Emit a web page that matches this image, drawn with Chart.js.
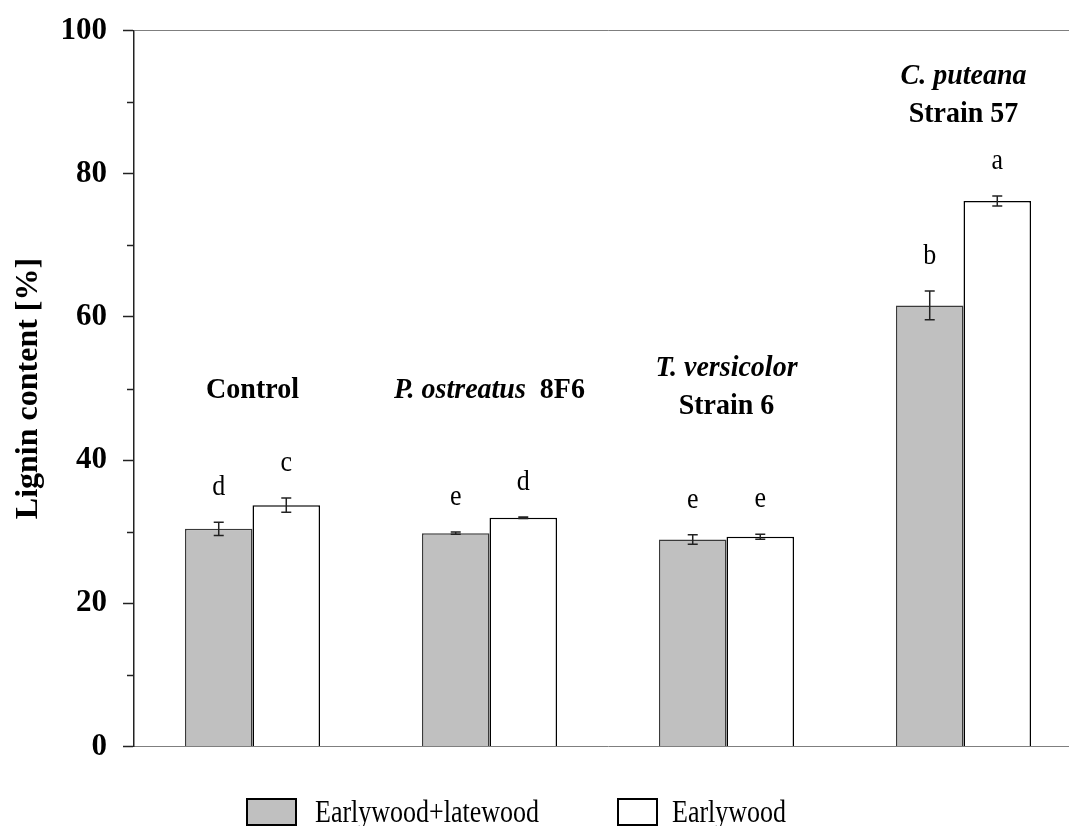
<!DOCTYPE html>
<html><head><meta charset="utf-8">
<script src="https://cdn.jsdelivr.net/npm/chart.js@4"></script>
<style>
html,body{margin:0;padding:0;background:#fff;overflow:hidden}
#wrap{width:1069px;height:826px;overflow:hidden;position:relative;background:#fff}
#box{width:1082px;height:826px;position:absolute;left:0;top:0}
</style></head><body>
<div id="wrap"><div id="box"><canvas id="c"></canvas></div></div>
<script>
const categories = ['Control', 'P. ostreatus 8F6', 'T. versicolor Strain 6', 'C. puteana Strain 57'];
const seriesNames = ['Earlywood+latewood', 'Earlywood'];
const earlyLate = [30.4, 29.8, 28.9, 61.6];
const earlyLateErr = [0.93, 0.15, 0.67, 2.0];
const early = [33.7, 31.95, 29.3, 76.2];
const earlyErr = [1.0, 0.1, 0.35, 0.7];
const earlyLateLetters = ['d', 'e', 'e', 'b'];
const earlyLetters = ['c', 'd', 'e', 'a'];
const yTicks = [0, 20, 40, 60, 80, 100];
const yMinorTicks = [10, 30, 50, 70, 90];
// group captions: lines of [text, italic] segments
const groupCaptions = [
  [[['Control', false]]],
  [[['P. ostreatus', true], ['  8F6', false]]],
  [[['T. versicolor', true]], [['Strain 6', false]]],
  [[['C. puteana', true]], [['Strain 57', false]]]
];
// baseline of the last caption line, in axis units
const captionAnchor = [48.7, 48.7, 46.5, 87.2];

const SERIF = '"Liberation Serif", "Times New Roman", serif';

const annotate = {
  id: 'annotate',
  afterDatasetsDraw(chart) {
    const ctx = chart.ctx;
    const y = chart.scales.y;
    const area = chart.chartArea;
    const errs = [earlyLateErr, earlyErr];
    const vals = [earlyLate, early];
    const letters = [earlyLateLetters, earlyLetters];
    ctx.save();
    // minor ticks
    ctx.strokeStyle = '#222';
    ctx.lineWidth = 1.5;
    yMinorTicks.forEach(v => {
      const py = Math.round(y.getPixelForValue(v)) + 0.5;
      ctx.beginPath(); ctx.moveTo(area.left - 7, py); ctx.lineTo(area.left, py); ctx.stroke();
    });
    // error bars + letters
    [0, 1].forEach(d => {
      const meta = chart.getDatasetMeta(d);
      meta.data.forEach((bar, i) => {
        const v = vals[d][i], e = errs[d][i];
        const top = y.getPixelForValue(v + e), bot = y.getPixelForValue(v - e);
        const x = bar.x;
        ctx.strokeStyle = '#222';
        ctx.lineWidth = 1.5;
        ctx.beginPath();
        ctx.moveTo(x, top); ctx.lineTo(x, bot);
        ctx.moveTo(x - 5, top); ctx.lineTo(x + 5, top);
        ctx.moveTo(x - 5, bot); ctx.lineTo(x + 5, bot);
        ctx.stroke();
        ctx.save();
        ctx.translate(x, top - 27);
        ctx.scale(1, 1.1);
        ctx.fillStyle = '#000';
        ctx.font = '26px ' + SERIF;
        ctx.textAlign = 'center';
        ctx.textBaseline = 'alphabetic';
        ctx.fillText(letters[d][i], 0, 0);
        ctx.restore();
      });
    });
    // group captions
    const x = chart.scales.x;
    groupCaptions.forEach((lines, i) => {
      const cx = x.getPixelForValue(i);
      const baseLast = y.getPixelForValue(captionAnchor[i]);
      lines.forEach((segs, li) => {
        const by = baseLast - (lines.length - 1 - li) * 38;
        let total = 0;
        const widths = segs.map(([t, it]) => {
          ctx.font = (it ? 'italic ' : '') + 'bold 28px ' + SERIF;
          const w = ctx.measureText(t).width; total += w; return w;
        });
        let sx = cx - total / 2;
        ctx.save();
        ctx.translate(0, by);
        ctx.scale(1, 1.08);
        ctx.textAlign = 'left';
        ctx.fillStyle = '#000';
        segs.forEach(([t, it], k) => {
          ctx.font = (it ? 'italic ' : '') + 'bold 28px ' + SERIF;
          ctx.fillText(t, sx, 0);
          sx += widths[k];
        });
        ctx.restore();
      });
    });
    ctx.restore();
  },
  afterDraw(chart) {
    const ctx = chart.ctx;
    const items = [
      { box: [247, 799, 49, 26], tx: 315 },
      { box: [618, 799, 39, 26], tx: 672 }
    ];
    ctx.save();
    chart.data.datasets.forEach((ds, i) => {
      const it = items[i];
      ctx.fillStyle = ds.backgroundColor;
      ctx.fillRect(it.box[0], it.box[1], it.box[2], it.box[3]);
      ctx.strokeStyle = '#000';
      ctx.lineWidth = 2;
      ctx.strokeRect(it.box[0], it.box[1], it.box[2], it.box[3]);
      ctx.save();
      ctx.translate(it.tx, 822);
      ctx.scale(1, 1.25);
      ctx.fillStyle = '#000';
      ctx.font = '26px ' + SERIF;
      ctx.textAlign = 'left';
      ctx.textBaseline = 'alphabetic';
      ctx.fillText(ds.label, 0, 0);
      ctx.restore();
    });
    ctx.restore();
  }
};

new Chart(document.getElementById('c'), {
  type: 'bar',
  data: {
    labels: categories,
    datasets: [
      { label: seriesNames[0], data: earlyLate, backgroundColor: '#c0c0c0', borderColor: '#3a3a3a', borderWidth: 1.5, categoryPercentage: 0.57, barPercentage: 1.0 },
      { label: seriesNames[1], data: early, backgroundColor: '#ffffff', borderColor: '#000000', borderWidth: 1.5, categoryPercentage: 0.57, barPercentage: 1.0 }
    ]
  },
  options: {
    responsive: true,
    maintainAspectRatio: false,
    animation: false,
    layout: { padding: { top: 30.5, bottom: 71.5, left: 0, right: 0 } },
    plugins: { legend: { display: false }, tooltip: { enabled: false } },
    scales: {
      x: {
        type: 'category',
        offset: true,
        grid: { display: false },
        ticks: { display: false },
        border: { display: true, color: '#7f7f7f', width: 1 }
      },
      y: {
        min: 0, max: 100,
        afterFit(scale) { scale.width = 134; scale.paddingTop = 0; scale.paddingBottom = 0; },
        afterBuildTicks(scale) { scale.ticks = yTicks.map(v => ({ value: v })); },
        ticks: { font: { family: SERIF, size: 31, weight: 'bold' }, color: '#000', padding: 16 },
        grid: {
          drawOnChartArea: true,
          color: c => (c.tick && c.tick.value === 100) ? '#7f7f7f' : 'rgba(0,0,0,0)',
          tickColor: '#222', tickLength: 11, tickWidth: 1.5, lineWidth: 1
        },
        border: { display: true, color: '#222', width: 1.5 },
        title: { display: true, text: 'Lignin content [%]', color: '#000', font: { family: SERIF, size: 32, weight: 'bold' }, padding: { top: 10, bottom: 0 } }
      }
    }
  },
  plugins: [annotate]
});
</script>
</body></html>
